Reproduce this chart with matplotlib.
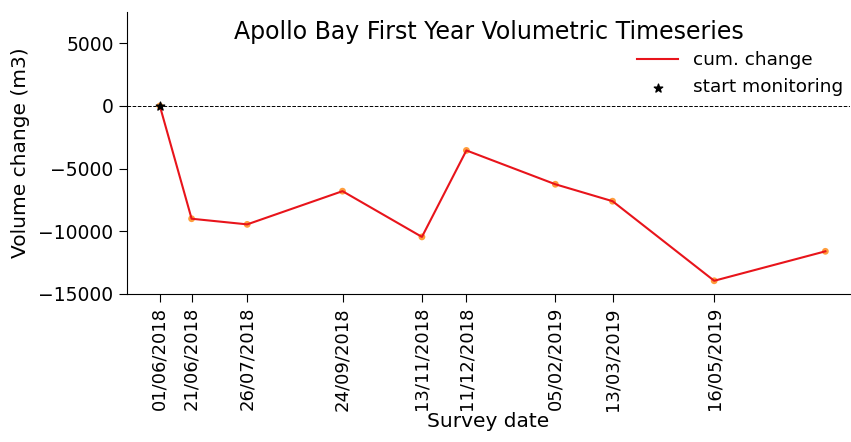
import matplotlib
matplotlib.use("Agg")
import matplotlib.pyplot as plt
import pandas as pd

dates = ["2018-06-01", "2018-06-21", "2018-07-26", "2018-09-24", "2018-11-13",
         "2018-12-11", "2019-02-05", "2019-03-13", "2019-05-16", "2019-07-25"]
cum_change = [0, -9000, -9450, -6800, -10450, -3550, -6250, -7600, -13950, -11600]
tick_dates = dates[:9]
tick_labels = ["01/06/2018", "21/06/2018", "26/07/2018", "24/09/2018", "13/11/2018",
               "11/12/2018", "05/02/2019", "13/03/2019", "16/05/2019"]

x = pd.to_datetime(dates)
xt = pd.to_datetime(tick_dates)

fig = plt.figure(figsize=(8.51, 4.42), dpi=100)
ax = fig.add_axes([0.149, 0.335, 0.85, 0.638])

ax.axhline(0, color="black", linestyle="--", linewidth=0.7, zorder=1)
ax.scatter(x, cum_change, color="#ff8c1a", s=24, alpha=0.85, zorder=2, edgecolors="none")
ax.plot(x, cum_change, color="#e8141b", linewidth=1.5, label="cum. change", zorder=3)
ax.scatter(x[:1], cum_change[:1], marker="*", color="black", s=40, zorder=4,
           label="start monitoring")

ax.set_xlim(x[0] - pd.Timedelta(days=20.8), x[0] + pd.Timedelta(days=434.6))
ax.set_ylim(-15000, 7500)
ax.set_yticks([-15000, -10000, -5000, 0, 5000])
ax.set_xticks(xt)
ax.set_xticklabels(tick_labels, rotation=90)
ax.tick_params(axis="x", labelsize=13, length=6)
ax.tick_params(axis="y", labelsize=13.5, length=6)

for s in ["top", "right"]:
    ax.spines[s].set_visible(False)

ax.set_ylabel("Volume change (m3)", fontsize=14.5, labelpad=6)
ax.set_xlabel("Survey date", fontsize=14.5, labelpad=1)
ax.set_title("Apollo Bay First Year Volumetric Timeseries", fontsize=17, y=0.875)
ax.legend(loc="upper right", bbox_to_anchor=(1.013, 0.92), frameon=False, fontsize=13.3,
          handlelength=2.2)

fig.savefig("out.png", dpi=100)
